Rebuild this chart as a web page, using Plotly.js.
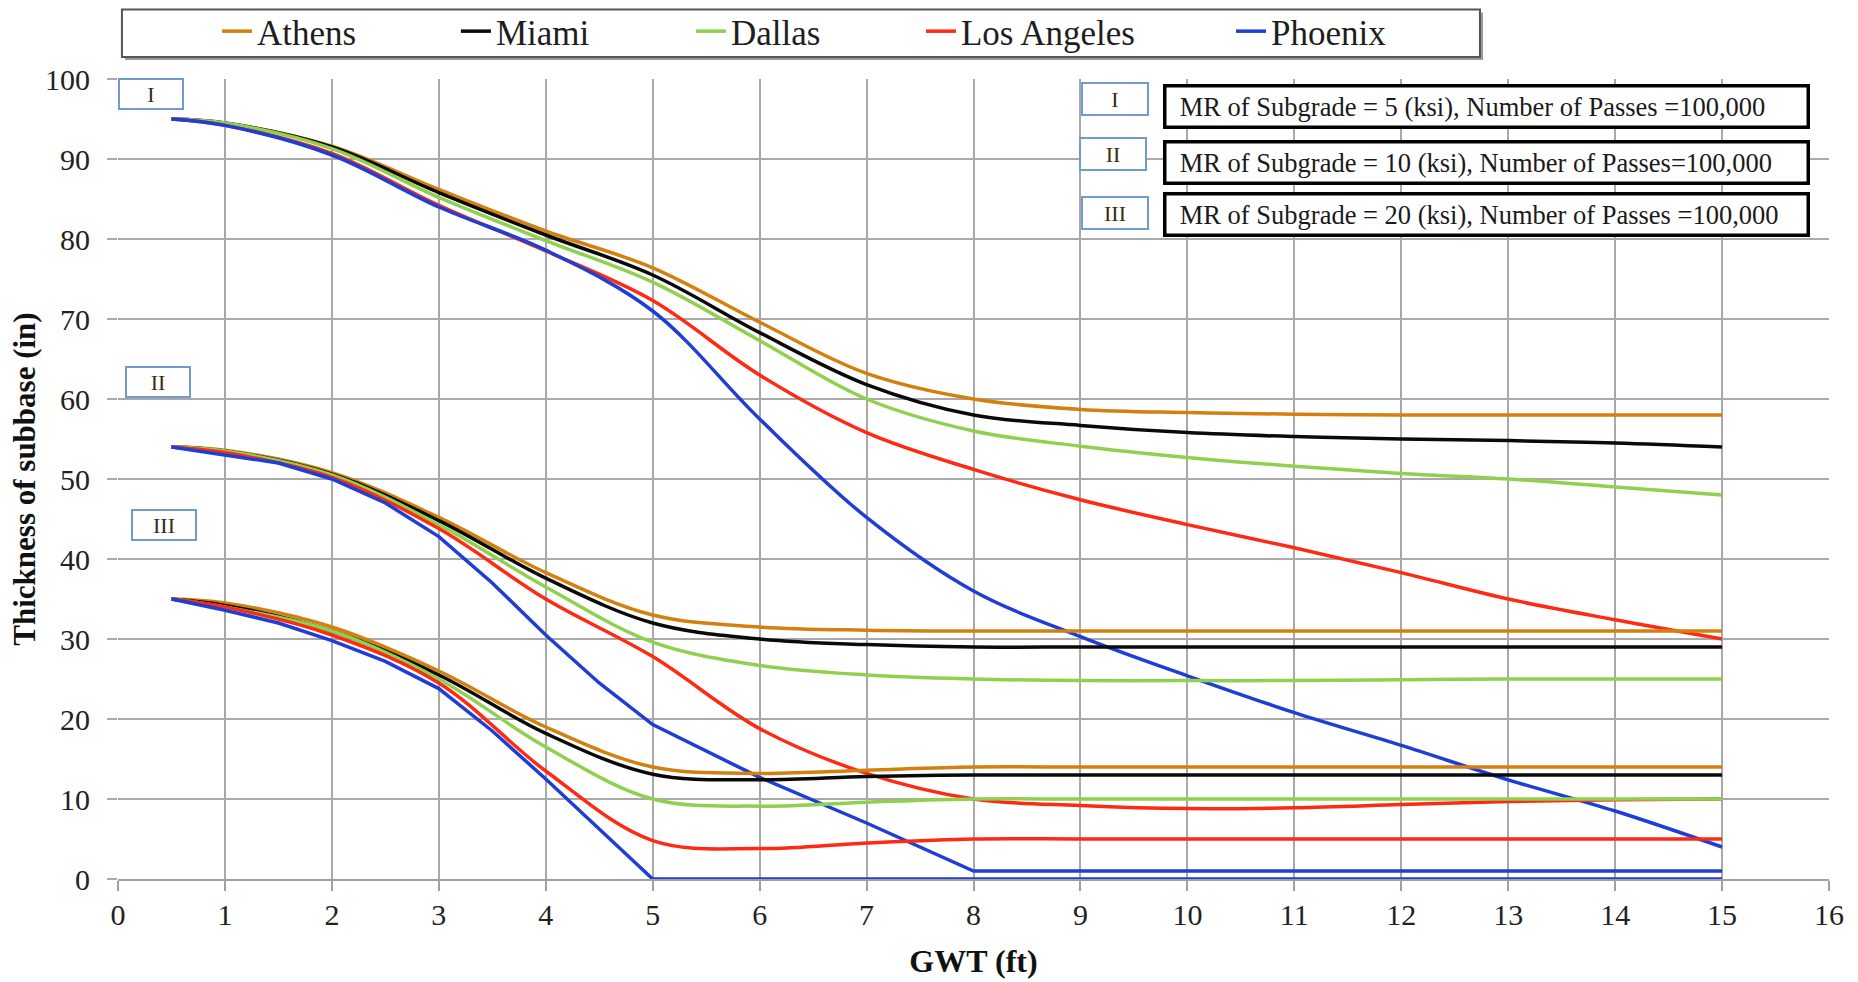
<!DOCTYPE html>
<html>
<head>
<meta charset="utf-8">
<script src="https://cdn.plot.ly/plotly-3.0.1.min.js"></script>
<style>html,body{margin:0;padding:0;background:#fff;}#chart{width:1858px;height:982px;}</style>
</head>
<body>
<div id="chart"></div>
<script>
// ---- data ----
const cities = ["Athens", "Miami", "Dallas", "Los Angeles", "Phoenix"];
const gwt = [0.5, 1, 2, 3, 4, 5, 6, 7, 8, 9, 10, 11, 12, 13, 14, 15];

// Group I : MR of subgrade = 5 ksi
const athensI  = [95, 94.5, 91.6, 86.2, 81.0, 76.4, 69.6, 63.2, 60.0, 58.7, 58.3, 58.1, 58, 58, 58, 58];
const miamiI   = [95, 94.5, 91.5, 85.8, 80.5, 75.5, 68.3, 61.8, 58.0, 56.7, 55.8, 55.3, 55.0, 54.8, 54.5, 54];
const dallasI  = [95, 94.5, 91.3, 85.2, 79.8, 74.6, 67.3, 60.0, 56.0, 54.1, 52.7, 51.6, 50.7, 50.0, 49.0, 48];
const laI      = [95, 94.2, 90.7, 84.2, 78.5, 72.3, 63.0, 55.8, 51.2, 47.4, 44.3, 41.4, 38.3, 35.0, 32.4, 30];
const phoenixI = [95, 94.2, 90.5, 84.0, 78.6, 71.0, 57.5, 45.2, 36.0, 30.3, 25.4, 20.8, 16.7, 12.4, 8.5, 4];

// Group II : MR of subgrade = 10 ksi
const athensII  = [54, 53.6, 50.8, 45.2, 38.3, 33.0, 31.5, 31.1, 31.0, 31, 31, 31, 31, 31, 31, 31];
const miamiII   = [54, 53.5, 50.6, 44.8, 37.6, 32.0, 30.0, 29.3, 29.0, 29, 29, 29, 29, 29, 29, 29];
const dallasII  = [54, 53.5, 50.5, 44.3, 36.5, 29.6, 26.7, 25.5, 25.0, 24.8, 24.8, 24.8, 24.9, 25, 25, 25];
const laII      = [54, 53.3, 50.2, 43.8, 35.0, 27.8, 18.8, 13.2, 10.0, 9.2, 8.8, 8.9, 9.3, 9.7, 9.9, 10];
const phoenixIIx = [0.5, 1, 1.5, 2, 2.5, 3, 3.5, 4, 4.5, 5, 6, 7, 8, 15];
const phoenixII  = [54, 53, 52, 50, 47, 42.8, 37, 30.5, 24.5, 19.3, 12.7, 7, 1, 1];

// Group III : MR of subgrade = 20 ksi
const athensIII  = [35, 34.5, 31.5, 26.0, 19.0, 14.0, 13.2, 13.6, 14, 14, 14, 14, 14, 14, 14, 14];
const miamiIII   = [35, 34.2, 31.0, 25.5, 18.2, 13.1, 12.4, 12.8, 13, 13, 13, 13, 13, 13, 13, 13];
const dallasIII  = [35, 34.0, 31.0, 25.0, 16.5, 10.0, 9.1, 9.6, 10, 10, 10, 10, 10, 10, 10, 10];
const laIII      = [35, 34.0, 30.5, 24.5, 13.5, 4.8, 3.8, 4.5, 5, 5, 5, 5, 5, 5, 5, 5];
const phoenixIIIx = [0.5, 1, 1.5, 2, 2.5, 3, 3.5, 4, 5, 15];
const phoenixIII  = [35, 33.6, 32, 29.8, 27.2, 23.8, 18.5, 12.5, 0, 0];

const xTicks = [0,1,2,3,4,5,6,7,8,9,10,11,12,13,14,15,16];
const yTicks = [0,10,20,30,40,50,60,70,80,90,100];
const groupLabels = ["I", "II", "III"];
const groupTexts = [
  "MR of Subgrade = 5 (ksi), Number of Passes =100,000",
  "MR of Subgrade = 10 (ksi), Number of Passes=100,000",
  "MR of Subgrade = 20 (ksi), Number of Passes =100,000"
];

// ---- styles ----
const colors = {"Athens":"#d4800e","Miami":"#0a0a0a","Dallas":"#8fd14f","Los Angeles":"#ff2a14","Phoenix":"#1f3ed6"};
const legendIds = {"Athens":"legend","Miami":"legend2","Dallas":"legend3","Los Angeles":"legend4","Phoenix":"legend5"};
const FONT = '"Liberation Serif", "Times New Roman", serif';

const series = [
  ["Athens", gwt, athensI, 'spline'], ["Miami", gwt, miamiI, 'spline'], ["Dallas", gwt, dallasI, 'spline'],
  ["Los Angeles", gwt, laI, 'spline'], ["Phoenix", gwt, phoenixI, 'spline'],
  ["Athens", gwt, athensII, 'spline'], ["Miami", gwt, miamiII, 'spline'], ["Dallas", gwt, dallasII, 'spline'],
  ["Los Angeles", gwt, laII, 'spline'], ["Phoenix", phoenixIIx, phoenixII, 'linear'],
  ["Athens", gwt, athensIII, 'spline'], ["Miami", gwt, miamiIII, 'spline'], ["Dallas", gwt, dallasIII, 'spline'],
  ["Los Angeles", gwt, laIII, 'spline'], ["Phoenix", phoenixIIIx, phoenixIII, 'linear']
];

const seen = {};
const traces = series.map(([name, x, y, shape]) => {
  const first = !seen[name]; seen[name] = true;
  return {
    type: 'scatter', mode: 'lines', name: name, x: x, y: y,
    legendgroup: name, showlegend: first, legend: legendIds[name],
    line: {color: colors[name], width: 3.5, shape: shape, smoothing: 1},
    hoverinfo: 'x+y+name'
  };
});

const legendBase = (xpos) => ({
  x: xpos, y: 1.0595, xref: 'paper', yref: 'paper', xanchor: 'left', yanchor: 'middle',
  orientation: 'h', bgcolor: 'rgba(0,0,0,0)', borderwidth: 0,
  font: {family: FONT, size: 35, color: '#1e1e1e'}, itemwidth: 30, tracegroupgap: 0
});

const leftBoxes = [[0.305, 98.1], [0.37, 62.1], [0.43, 44.3]];
const rightBoxes = [[9.32, 97.5], [9.3, 90.6], [9.32, 83.3]];
const textBoxY = [96.6, 89.6, 83.1];

const annotations = [];
groupLabels.forEach((g, i) => {
  annotations.push({
    x: leftBoxes[i][0], y: leftBoxes[i][1], xref: 'x', yref: 'y', text: g, showarrow: false,
    font: {family: FONT, size: 22, color: '#3a2a12'}, bgcolor: '#ffffff',
    bordercolor: '#6f9bd1', borderwidth: 2, borderpad: 0, width: 62, height: 28,
    xanchor: 'center', yanchor: 'middle', align: 'center'
  });
  annotations.push({
    x: rightBoxes[i][0], y: rightBoxes[i][1], xref: 'x', yref: 'y', text: g, showarrow: false,
    font: {family: FONT, size: 22, color: '#3a2a12'}, bgcolor: '#ffffff',
    bordercolor: '#6f9bd1', borderwidth: 2, borderpad: 0, width: 64, height: 30,
    xanchor: 'center', yanchor: 'middle', align: 'center'
  });
  annotations.push({
    x: 9.77, y: textBoxY[i], xref: 'x', yref: 'y', text: '\u00a0\u00a0' + groupTexts[i], showarrow: false,
    font: {family: FONT, size: 26.5, color: '#1a1a1a'}, bgcolor: '#ffffff',
    bordercolor: '#000000', borderwidth: 3.5, borderpad: 0, width: 640, height: 38,
    xanchor: 'left', yanchor: 'middle', align: 'left'
  });
});

const layout = {
  width: 1858, height: 982,
  margin: {l: 118, r: 29, t: 79, b: 103, autoexpand: false},
  paper_bgcolor: '#ffffff', plot_bgcolor: '#ffffff',
  font: {family: FONT, color: '#1e1e1e'},
  xaxis: {
    range: [0, 16], tickvals: xTicks, ticktext: xTicks.map(String),
    showgrid: true, gridcolor: '#a9a9a9', gridwidth: 2,
    zeroline: false, showline: true, linecolor: '#a0a0a0', linewidth: 2,
    ticks: 'outside', ticklen: 10, tickcolor: '#a0a0a0', tickwidth: 2,
    tickfont: {family: FONT, size: 30, color: '#222'}, ticklabelstandoff: -2,
    title: {text: 'GWT (ft)', font: {family: FONT, size: 32, color: '#111', weight: 'bold'}, standoff: 20},
    automargin: false, fixedrange: true
  },
  yaxis: {
    range: [0, 100], tickvals: yTicks, ticktext: yTicks.map(String),
    showgrid: true, gridcolor: '#a9a9a9', gridwidth: 2,
    zeroline: false, showline: false,
    ticks: 'outside', ticklen: 10, tickcolor: '#a9a9a9', tickwidth: 2,
    tickfont: {family: FONT, size: 30, color: '#222'}, ticklabelstandoff: 11,
    title: {text: 'Thickness of subbase (in)', font: {family: FONT, size: 31, color: '#111', weight: 'bold'}, standoff: 0},
    automargin: false, fixedrange: true
  },
  legend: legendBase(0.0579),
  legend2: legendBase(0.1975),
  legend3: legendBase(0.3349),
  legend4: legendBase(0.4693),
  legend5: legendBase(0.6505),
  shapes: [
    {type: 'rect', xref: 'paper', yref: 'paper', x0: 0.0040, x1: 0.7978, y0: 1.0238, y1: 1.0832,
     fillcolor: '#9a9a9a', line: {width: 0}, layer: 'above'},
    {type: 'rect', xref: 'paper', yref: 'paper', x0: 0.0023, x1: 0.796, y0: 1.0275, y1: 1.0869,
     fillcolor: '#ffffff', line: {color: '#555555', width: 2}, layer: 'above'}
  ],
  annotations: annotations,
  showlegend: true
};

Plotly.newPlot('chart', traces, layout, {displayModeBar: false, staticPlot: true});
</script>
</body>
</html>
